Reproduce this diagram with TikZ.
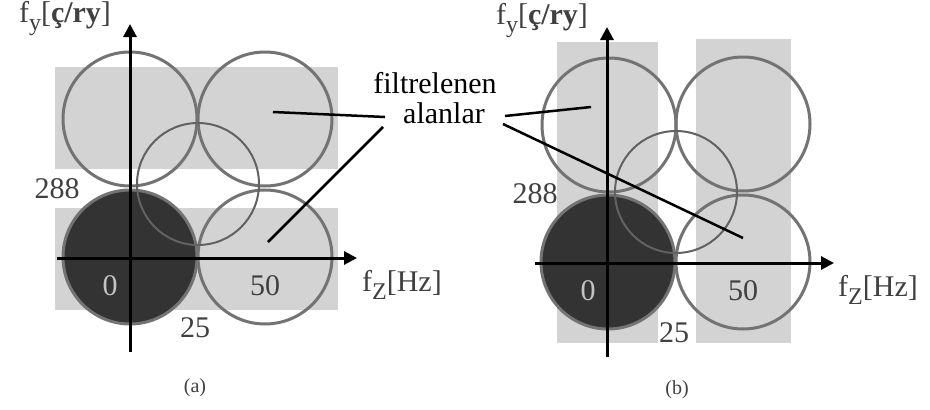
\documentclass[tikz,border=0pt]{standalone}
\usepackage{fontspec}
\setmainfont{Liberation Serif}
\usetikzlibrary{arrows.meta,positioning}
\definecolor{fltGray}{HTML}{D3D3D3}
\definecolor{fltRing}{HTML}{737373}
\definecolor{fltDark}{HTML}{333333}
\definecolor{fltText}{HTML}{404040}
\definecolor{fltZero}{HTML}{C4C4C4}
\newcommand{\fltsub}[1]{\raisebox{-8pt}{\fontsize{24}{24}\selectfont #1}}
\tikzset{
  fltring/.style={circle,draw=fltRing,line width=3pt,minimum size=134pt,
                  inner sep=0pt},
  fltdisc/.style={fltring,fill=fltDark},
  fltmid/.style={circle,draw=fltRing!85!black,line width=2pt,minimum size=122pt,
                 inner sep=0pt},
  fltband/.style={fill=fltGray,draw=none},
  fltaxis/.style={-{Triangle[length=13pt,width=13pt]},line width=3pt,black},
  fltlead/.style={line width=2.5pt,black},
  fltnum/.style={font=\fontsize{30}{32}\selectfont,text=fltText,inner sep=0pt},
  fltlabel/.style={font=\fontsize{30}{32}\selectfont,text=black,inner sep=0pt},
  fltcap/.style={font=\fontsize{20}{20}\selectfont,text=fltText,inner sep=0pt}
}

\begin{document}
\begin{tikzpicture}[x=1pt,y=-1pt]
    \useasboundingbox[fill=white] (0,0) rectangle (930,410);

    % (a) horizontal bands
    \fill[fltband] (55,67) rectangle (338,169);
    \fill[fltband] (55,208) rectangle (338,310);
    \node[fltdisc] (a0) at (130,257) {};
    \node[fltring] (a1) at (130,119) {};
    \node[fltring] (a2) at (265,119) {};
    \node[fltring] (a3) at (265,257) {};
    \node[fltmid] (am) at (198,184) {};

    \coordinate (axl) at (57,258);
    \coordinate (axr) at (357,258);
    \coordinate (ayb) at (130,352);
    \coordinate (ayt) at (130,24);
    \draw[fltaxis] (axl) -- (axr);
    \draw[fltaxis] (ayb) -- (ayt);

    \node[fltnum] (a288) at (57,189) {288};
    \node[fltnum,text=fltZero] (azero) at (110,286) {0};
    \node[fltnum] (a50) at (265,286) {50};
    \node[fltnum] (a25) at (195,328) {25};
    \node[fltnum] (afz) at (402,285) {f\fltsub{Z}[Hz]};
    \node[fltnum] (afy) at (65,19) {f\fltsub{y}[\textbf{ç/ry}]};
    \node[fltcap] (acap) at (195,388) {(a)};

    % shared label
    \node[fltlabel] (lbltop) at (435,83) {filtrelenen};
    \node[fltlabel] (lblbot) at (444,113) {alanlar};

    \coordinate (ap1) at (273,112);
    \coordinate (ap2) at (268,242);
    \coordinate (al1) at (385,117);
    \coordinate (al2) at (383,127);
    \draw[fltlead] (al1) -- (ap1);
    \draw[fltlead] (al2) -- (ap2);

    % (b) vertical bands
    \fill[fltband] (557,42) rectangle (658,343);
    \fill[fltband] (696,39) rectangle (791,343);
    \node[fltdisc] (b0) at (608,262) {};
    \node[fltring] (b1) at (609,125) {};
    \node[fltring] (b2) at (743,124) {};
    \node[fltring] (b3) at (743,262) {};
    \node[fltmid] (bm) at (676,192) {};

    \coordinate (bxl) at (535,263);
    \coordinate (bxr) at (834,263);
    \coordinate (byb) at (607,357);
    \coordinate (byt) at (607,27);
    \draw[fltaxis] (bxl) -- (bxr);
    \draw[fltaxis] (byb) -- (byt);

    \node[fltnum] (b288) at (535,194) {288};
    \node[fltnum,text=fltZero] (bzero) at (588,291) {0};
    \node[fltnum] (b50) at (743,291) {50};
    \node[fltnum] (b25) at (674,333) {25};
    \node[fltnum] (bfz) at (878,290) {f\fltsub{Z}[Hz]};
    \node[fltnum] (bfy) at (542,21) {f\fltsub{y}[\textbf{ç/ry}]};
    \node[fltcap] (bcap) at (677,390) {(b)};

    \coordinate (bp1) at (591,107);
    \coordinate (bp2) at (743,238);
    \coordinate (bl1) at (505,116);
    \coordinate (bl2) at (503,124);
    \draw[fltlead] (bl1) -- (bp1);
    \draw[fltlead] (bl2) -- (bp2);
  \end{tikzpicture}
\end{document}
